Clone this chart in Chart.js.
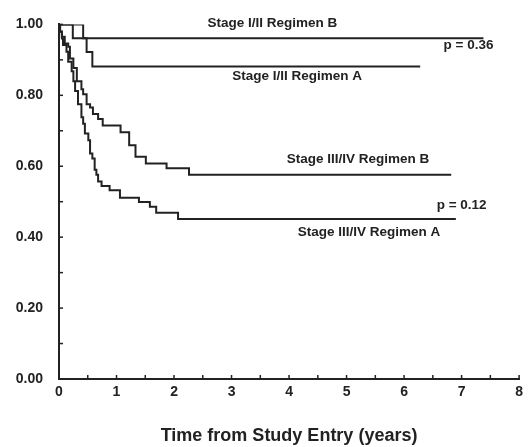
<!DOCTYPE html>
<html>
<head>
<meta charset="utf-8">
<script src="https://cdn.jsdelivr.net/npm/chart.js@4"></script>
<style>
  html, body { margin: 0; padding: 0; background: #fff; }
  #wrap { width: 528px; height: 447px; }
</style>
</head>
<body>
<div id="wrap"><canvas id="myChart" width="528" height="447"></canvas></div>
<script>
// Kaplan-Meier curves (time in years, survival fraction)
var stage12B_t = [0, 0.24, 7.38];
var stage12B_s = [1.0, 0.961, 0.961];

var stage12A_t = [0, 0.42, 0.48, 0.58, 6.28];
var stage12A_s = [1.0, 0.961, 0.922, 0.881, 0.881];

var stage34B_t = [0, 0.02, 0.05, 0.10, 0.16, 0.19, 0.25, 0.31, 0.39, 0.42, 0.48, 0.54, 0.59, 0.68, 0.76, 1.07, 1.22, 1.33, 1.51, 1.87, 2.26, 6.82];
var stage34B_s = [1.0, 0.98, 0.965, 0.946, 0.937, 0.904, 0.877, 0.84, 0.817, 0.803, 0.775, 0.766, 0.747, 0.733, 0.715, 0.696, 0.659, 0.627, 0.608, 0.594, 0.576, 0.576];

var stage34A_t = [0, 0.01, 0.05, 0.07, 0.13, 0.16, 0.22, 0.25, 0.28, 0.33, 0.39, 0.42, 0.45, 0.51, 0.54, 0.58, 0.62, 0.65, 0.68, 0.74, 0.88, 1.06, 1.39, 1.58, 1.69, 2.07, 6.9];
var stage34A_s = [1.0, 0.979, 0.96, 0.942, 0.923, 0.895, 0.868, 0.84, 0.812, 0.775, 0.738, 0.72, 0.692, 0.673, 0.636, 0.622, 0.59, 0.576, 0.557, 0.544, 0.532, 0.511, 0.499, 0.486, 0.469, 0.451, 0.451];

// curve labels and p values, anchored in data units
var noteText = ['Stage I/II Regimen B', 'p = 0.36', 'Stage I/II Regimen A',
                'Stage III/IV Regimen B', 'p = 0.12', 'Stage III/IV Regimen A'];
var noteX = [3.71, 7.12, 4.14, 5.20, 7.0, 5.39];
var noteY = [1.003, 0.942, 0.853, 0.619, 0.489, 0.414];

var xTitle = 'Time from Study Entry (years)';

var ink = '#222';
var fam = '"Liberation Sans", Arial, sans-serif';

function pts(t, s) {
    return t.map(function (x, i) { return { x: x, y: s[i] }; });
}

function curve(t, s) {
    return {
        data: pts(t, s),
        borderColor: ink,
        borderWidth: 2,
        pointRadius: 0,
        fill: false,
        stepped: 'before'
    };
}

// small inward tick marks + text notes
var extras = {
    id: 'extras',
    afterDraw: function (chart) {
        var c = chart.ctx;
        var xs = chart.scales.x, ys = chart.scales.y;
        c.save();
        c.strokeStyle = ink;
        c.lineWidth = 1.5;
        xs.ticks.forEach(function (tk) {
            var px = xs.getPixelForValue(tk.value);
            c.beginPath();
            c.moveTo(px, ys.bottom);
            c.lineTo(px, ys.bottom - 4);
            c.stroke();
        });
        ys.ticks.forEach(function (tk) {
            var py = ys.getPixelForValue(tk.value);
            c.beginPath();
            c.moveTo(xs.left, py);
            c.lineTo(xs.left + 4, py);
            c.stroke();
        });
        c.fillStyle = ink;
        c.font = 'bold 13.5px ' + fam;
        c.textAlign = 'center';
        c.textBaseline = 'middle';
        noteText.forEach(function (txt, i) {
            c.fillText(txt, xs.getPixelForValue(noteX[i]), ys.getPixelForValue(noteY[i]));
        });
        c.restore();
    }
};

var ctx = document.getElementById('myChart').getContext('2d');
var chart = new Chart(ctx, {
    type: 'line',
    data: {
        datasets: [
            curve(stage12B_t, stage12B_s),
            curve(stage12A_t, stage12A_s),
            curve(stage34B_t, stage34B_s),
            curve(stage34A_t, stage34A_s)
        ]
    },
    options: {
        responsive: false,
        animation: false,
        layout: { padding: { top: 19, right: 7, left: 0, bottom: 0 } },
        plugins: { legend: { display: false }, tooltip: { enabled: false } },
        scales: {
            x: {
                type: 'linear',
                min: 0,
                max: 8,
                grid: { display: false, drawTicks: false },
                border: { display: true, color: ink, width: 2 },
                ticks: {
                    stepSize: 0.5,
                    autoSkip: false,
                    maxRotation: 0,
                    padding: 5,
                    color: ink,
                    font: { family: fam, size: 14, weight: 'bold' },
                    callback: function (v) { return Number.isInteger(v) ? String(v) : ''; }
                },
                title: {
                    display: true,
                    text: xTitle,
                    color: ink,
                    font: { family: fam, size: 18, weight: 'bold' },
                    padding: { top: 0, bottom: 0 }
                },
                afterFit: function (s) { s.height = 68; }
            },
            y: {
                min: 0,
                max: 1,
                grid: { display: false, drawTicks: false },
                border: { display: true, color: ink, width: 2 },
                ticks: {
                    stepSize: 0.1,
                    autoSkip: false,
                    padding: 16,
                    color: ink,
                    font: { family: fam, size: 14, weight: 'bold' },
                    callback: function (v) { return Math.round(v * 10) % 2 === 0 ? v.toFixed(2) : ''; }
                },
                afterFit: function (s) { s.width = 59; }
            }
        }
    },
    plugins: [extras]
});
</script>
</body>
</html>
